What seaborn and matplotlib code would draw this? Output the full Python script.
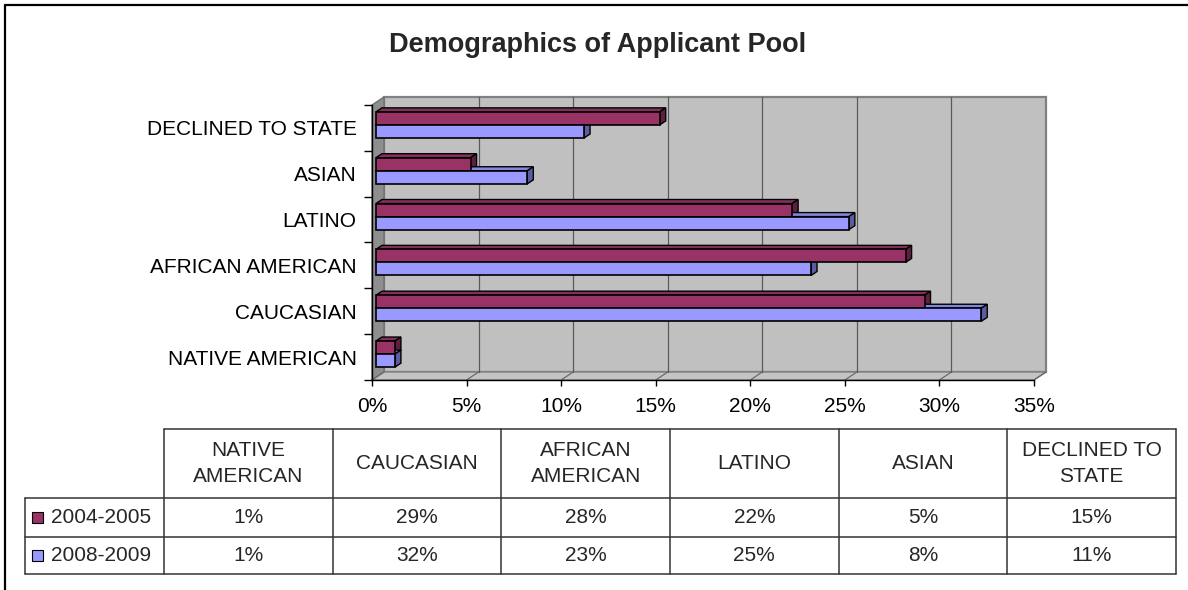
import matplotlib
matplotlib.use("Agg")
import matplotlib.pyplot as plt
import seaborn as sns
import pandas as pd
import numpy as np
from matplotlib.patches import Polygon, Rectangle
from matplotlib.lines import Line2D
from matplotlib.transforms import IdentityTransform, ScaledTranslation
from matplotlib.colors import to_rgba

# ---------------- data ----------------
categories = ["NATIVE AMERICAN", "CAUCASIAN", "AFRICAN AMERICAN", "LATINO", "ASIAN", "DECLINED TO STATE"]
table_headers = ["NATIVE\nAMERICAN", "CAUCASIAN", "AFRICAN\nAMERICAN", "LATINO", "ASIAN", "DECLINED TO\nSTATE"]
years = ["2004-2005", "2008-2009"]
pct_2004_2005 = [1, 29, 28, 22, 5, 15]
pct_2008_2009 = [1, 32, 23, 25, 8, 11]
x_ticks = [0, 5, 10, 15, 20, 25, 30, 35]
title = "Demographics of Applicant Pool"

front_colors = {"2004-2005": "#993366", "2008-2009": "#9999FF"}
top_colors = {"2004-2005": "#84305B", "2008-2009": "#8585E0"}
side_colors = {"2004-2005": "#5E1F40", "2008-2009": "#5C5CA0"}

W, H, DPI = 1188, 590, 100

sns.set_theme(style="white")
plt.rcParams["font.family"] = ["Liberation Sans", "DejaVu Sans"]

df = pd.DataFrame({
    "category": categories * 2,
    "year": [years[0]] * len(categories) + [years[1]] * len(categories),
    "pct": pct_2004_2005 + pct_2008_2009,
})

fig = plt.figure(figsize=(W / DPI, H / DPI), dpi=DPI)
fig.patch.set_facecolor("white")


def fx(px):
    return px / W


def fy(py):
    return 1 - py / H


ax = fig.add_axes([fx(372), fy(380), fx(1034) - fx(372), fy(105) - fy(380)])
ax.set_facecolor("none")
order = categories[::-1]
sns.barplot(data=df, x="pct", y="category", hue="year", order=order, hue_order=years,
            palette=front_colors, orient="h", width=0.57, saturation=1,
            edgecolor="black", linewidth=1.2, legend=False, ax=ax)
ax.set_xlim(0, 35)
ax.set_ylim(len(order) - 0.5, -0.5)
ax.set_xlabel("")
ax.set_ylabel("")

# ---------------- 3D walls ----------------
WD = (12, 8)   # wall depth in px
BO = (4, 3)    # bar front offset px
BD = (6, 4)    # bar depth px
ident = IdentityTransform()

(x0d, y0d) = ax.transData.transform((0, len(order) - 0.5))
(x1d, y1d) = ax.transData.transform((35, -0.5))

back = Polygon([(x0d + WD[0], y0d + WD[1]), (x1d + WD[0], y0d + WD[1]),
                (x1d + WD[0], y1d + WD[1]), (x0d + WD[0], y1d + WD[1])],
               closed=True, facecolor="#C0C0C0", edgecolor="#808080", lw=1.6,
               transform=ident, clip_on=False, zorder=0.1)
ax.add_patch(back)
left = Polygon([(x0d, y0d), (x0d, y1d), (x0d + WD[0], y1d + WD[1]), (x0d + WD[0], y0d + WD[1])],
               closed=True, facecolor="#8E8E8E", edgecolor="#707070", lw=1.0,
               transform=ident, clip_on=False, zorder=0.2)
ax.add_patch(left)
floor = Polygon([(x0d, y0d), (x1d, y0d), (x1d + WD[0], y0d + WD[1]), (x0d + WD[0], y0d + WD[1])],
                closed=True, facecolor="#C4C4C4", edgecolor="#808080", lw=1.0,
                transform=ident, clip_on=False, zorder=0.2)
ax.add_patch(floor)

for v in x_ticks:
    xd = ax.transData.transform((v, 0))[0]
    ax.add_line(Line2D([xd, xd + WD[0]], [y0d, y0d + WD[1]], color="#6A6A6A", lw=0.9,
                       transform=ident, clip_on=False, zorder=0.3))
    if 0 < v < 35:
        ax.add_line(Line2D([xd + WD[0], xd + WD[0]], [y0d + WD[1], y1d + WD[1]], color="#5A5A5A",
                           lw=0.9, transform=ident, clip_on=False, zorder=0.3))

# ---------------- 3D bar faces ----------------
offset_tr = ax.transData + ScaledTranslation(BO[0] / DPI, BO[1] / DPI, fig.dpi_scale_trans)
for p in list(ax.patches):
    if not isinstance(p, Rectangle) or p.get_width() <= 0:
        continue
    fc = p.get_facecolor()
    yr = min(years, key=lambda k: sum((a - b) ** 2 for a, b in zip(to_rgba(front_colors[k]), fc)))
    x, y, w, h = p.get_x(), p.get_y(), p.get_width(), p.get_height()
    (L, Y1) = ax.transData.transform((x, y))
    (R, Y2) = ax.transData.transform((x + w, y + h))
    L += BO[0]; R += BO[0]
    T = max(Y1, Y2) + BO[1]
    B = min(Y1, Y2) + BO[1]
    p.set_transform(offset_tr)
    p.set_zorder(5)
    p.set_clip_on(False)
    topf = Polygon([(L, T), (R, T), (R + BD[0], T + BD[1]), (L + BD[0], T + BD[1])], closed=True,
                   facecolor=top_colors[yr], edgecolor="black", lw=1.0, transform=ident,
                   clip_on=False, zorder=4)
    side = Polygon([(R, B), (R, T), (R + BD[0], T + BD[1]), (R + BD[0], B + BD[1])], closed=True,
                   facecolor=side_colors[yr], edgecolor="black", lw=1.0, transform=ident,
                   clip_on=False, zorder=4)
    ax.add_patch(topf)
    ax.add_patch(side)

# ---------------- axes styling ----------------
for s in ["top", "right"]:
    ax.spines[s].set_visible(False)
for s in ["left", "bottom"]:
    ax.spines[s].set_color("black")
    ax.spines[s].set_linewidth(1.0)
    ax.spines[s].set_zorder(6)

ax.set_yticks(range(len(order)))
ax.set_yticklabels(order)
ax.set_yticks(np.arange(-0.5, len(order), 1), minor=True)
ax.set_xticks(x_ticks)
ax.set_xticklabels([f"{v}%" for v in x_ticks])
ax.tick_params(axis="y", which="major", left=True, length=0, pad=11, labelsize=15, labelcolor="black")
ax.tick_params(axis="y", which="minor", left=True, length=6, width=1, color="black", direction="out")
ax.tick_params(axis="x", which="major", bottom=True, length=4, width=1, color="black",
               direction="out", pad=8, labelsize=15, labelcolor="black")
ax.grid(False)

# ---------------- title ----------------
fig.text(fx(598), fy(52), title, ha="center", va="baseline", fontsize=19.5, fontweight="bold")

# ---------------- data table ----------------
line_kw = dict(color="#333333", lw=1.1, transform=fig.transFigure)
col_left, col_right = 164, 1176
ncol = len(categories)
col_w = (col_right - col_left) / ncol
head_top, head_bot, row1_bot, row2_bot = 429, 498, 537, 574
lab_left = 25

# horizontal lines
fig.add_artist(Line2D([fx(col_left), fx(col_right)], [fy(head_top)] * 2, **line_kw))
for yy in [head_bot, row1_bot, row2_bot]:
    fig.add_artist(Line2D([fx(lab_left), fx(col_right)], [fy(yy)] * 2, **line_kw))
# vertical lines
for i in range(ncol + 1):
    xx = col_left + i * col_w
    fig.add_artist(Line2D([fx(xx)] * 2, [fy(head_top), fy(row2_bot)], **line_kw))
fig.add_artist(Line2D([fx(lab_left)] * 2, [fy(head_bot), fy(row2_bot)], **line_kw))

for i, hdr in enumerate(table_headers):
    cx = col_left + (i + 0.5) * col_w
    fig.text(fx(cx), fy((head_top + head_bot) / 2), hdr, ha="center", va="center",
             fontsize=15, linespacing=1.5)

rows = [(years[0], pct_2004_2005, head_bot, row1_bot), (years[1], pct_2008_2009, row1_bot, row2_bot)]
for yr, vals, rt, rb in rows:
    cy = (rt + rb) / 2
    fig.add_artist(Rectangle((fx(32), fy(cy + 5.5)), fx(11), 11 / H, facecolor=front_colors[yr],
                             edgecolor="black", lw=0.8, transform=fig.transFigure))
    fig.text(fx(51), fy(cy), yr, ha="left", va="center", fontsize=15)
    for i, v in enumerate(vals):
        cx = col_left + (i + 0.5) * col_w
        fig.text(fx(cx), fy(cy), f"{v}%", ha="center", va="center", fontsize=15)

# ---------------- outer border ----------------
fig.add_artist(Line2D([fx(5), 1], [fy(5), fy(5)], color="black", lw=1.6, transform=fig.transFigure))
fig.add_artist(Line2D([fx(5), fx(5)], [fy(5), 0], color="black", lw=1.6, transform=fig.transFigure))

fig.savefig("out.png", dpi=DPI)
